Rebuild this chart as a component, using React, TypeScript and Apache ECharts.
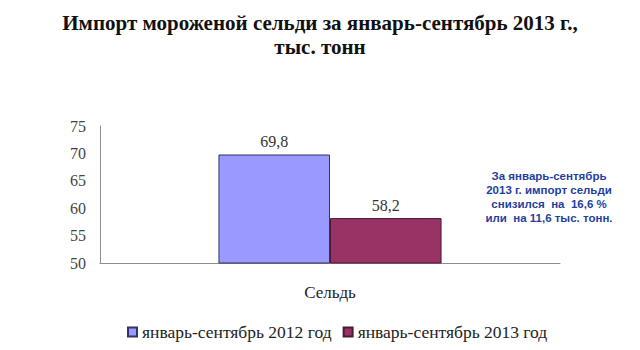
import React, { useEffect, useRef } from "react";
import * as echarts from "echarts";

const categories = ["Сельдь"];
const seriesNames = ["январь-сентябрь 2012 год", "январь-сентябрь 2013 год"];
const values2012 = [69.8];
const values2013 = [58.2];
const yMin = 50;
const yMax = 75;
const yStep = 5;
const titleLines = ["Импорт мороженой сельди за январь-сентябрь 2013 г.,", "тыс. тонн"];
const noteLines = ["За январь-сентябрь", "2013 г. импорт сельди", "снизился  на  16,6 %", "или  на 11,6 тыс. тонн."];

export default function App() {
  const ref = useRef<HTMLDivElement>(null);
  useEffect(() => {
    if (!ref.current) return;
    const chart = echarts.init(ref.current, undefined, { renderer: "svg" });
    const serif = "Liberation Serif";
    const fmt = (p: any) => String(p.value).replace(".", ",");
    chart.setOption({
      animation: false,
      backgroundColor: "#ffffff",
      title: {
        text: titleLines.join("\n"),
        left: "center",
        top: 6,
        textStyle: { fontFamily: serif, fontSize: 21, fontWeight: "bold", color: "#111", lineHeight: 24 },
      },
      grid: { left: 100, right: 80, top: 126, bottom: 87 },
      xAxis: {
        type: "category",
        data: categories,
        axisLine: { lineStyle: { color: "#8c8c8c" } },
        axisTick: { show: false },
        axisLabel: { margin: 21, fontFamily: serif, fontSize: 17, color: "#222" },
      },
      yAxis: {
        type: "value",
        min: yMin,
        max: yMax,
        interval: yStep,
        splitLine: { show: false },
        axisLine: { show: true, lineStyle: { color: "#8c8c8c" } },
        axisTick: { show: false },
        axisLabel: { margin: 14, fontFamily: serif, fontSize: 16, color: "#444" },
      },
      legend: {
        top: 318,
        left: 122,
        icon: "rect",
        itemWidth: 9,
        itemHeight: 9,
        itemGap: 11,
        textStyle: { fontFamily: serif, fontSize: 17.5, color: "#222" },
        data: seriesNames,
      },
      series: [
        {
          name: seriesNames[0],
          type: "bar",
          data: values2012,
          barGap: "0%",
          barCategoryGap: "51.5%",
          itemStyle: { color: "#9999ff", borderColor: "#333366", borderWidth: 1 },
          label: { show: true, position: "top", distance: 5, formatter: fmt, fontFamily: serif, fontSize: 16, color: "#333" },
        },
        {
          name: seriesNames[1],
          type: "bar",
          data: values2013,
          barGap: "0%",
          barCategoryGap: "51.5%",
          itemStyle: { color: "#993366", borderColor: "#4a1a33", borderWidth: 1 },
          label: { show: true, position: "top", distance: 5, formatter: fmt, fontFamily: serif, fontSize: 16, color: "#333" },
        },
      ],
      graphic: noteLines.map((line, i) => ({
        type: "text",
        x: 549,
        y: 170 + i * 14,
        style: {
          text: line,
          textAlign: "center",
          textVerticalAlign: "top",
          fill: "#1f3f9f",
          fontFamily: "Liberation Sans",
          fontWeight: "bold",
          fontSize: 11.5,
        },
      })),
    });
    return () => chart.dispose();
  }, []);
  return <div ref={ref} style={{ position: "fixed", left: 0, top: 0, width: 640, height: 350 }} />;
}
